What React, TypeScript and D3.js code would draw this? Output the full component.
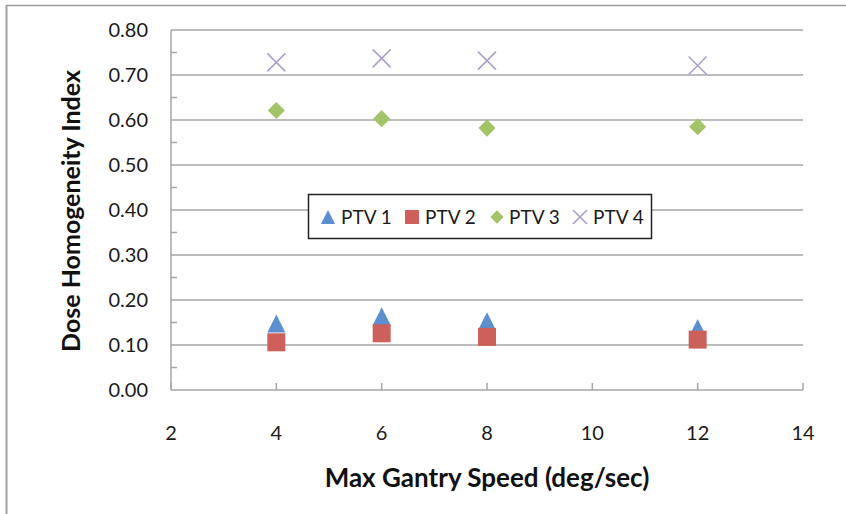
import React from "react";
import * as d3 from "d3";

// Max gantry speed (deg/sec) for each plan
const speeds = [4, 6, 8, 12];
// Dose homogeneity index per target volume
const ptv1 = [0.148, 0.164, 0.153, 0.138];
const ptv2 = [0.106, 0.126, 0.118, 0.112];
const ptv3 = [0.621, 0.603, 0.582, 0.585];
const ptv4 = [0.728, 0.737, 0.732, 0.721];
const seriesNames = ["PTV 1", "PTV 2", "PTV 3", "PTV 4"];
const xTicks = [2, 4, 6, 8, 10, 12, 14];
const yTicks = [0, 0.1, 0.2, 0.3, 0.4, 0.5, 0.6, 0.7, 0.8];

const W = 846;
const H = 514;
const FONT = "Lato, 'Open Sans', sans-serif";
const GRID = "#a6a6a6";
const colors = ["#5b8fcf", "#cd605a", "#a2c368", "#ad9fcc"];

const x = d3.scaleLinear().domain([2, 14]).range([171, 803]);
const y = d3.scaleLinear().domain([0, 0.8]).range([390, 30]);

function marker(kind: number, cx: number, cy: number, s: number, key?: string) {
  const h = s / 2;
  if (kind === 0) {
    return (
      <path key={key} d={`M${cx},${cy - h}L${cx + h},${cy + h}L${cx - h},${cy + h}Z`} fill={colors[0]} />
    );
  }
  if (kind === 1) {
    return <rect key={key} x={cx - h} y={cy - h} width={s} height={s} fill={colors[1]} />;
  }
  if (kind === 2) {
    const d = h * 0.95;
    return (
      <path key={key} d={`M${cx},${cy - d}L${cx + d},${cy}L${cx},${cy + d}L${cx - d},${cy}Z`} fill={colors[2]} />
    );
  }
  return (
    <path
      key={key}
      d={`M${cx - h},${cy - h}L${cx + h},${cy + h}M${cx + h},${cy - h}L${cx - h},${cy + h}`}
      stroke={colors[3]}
      strokeWidth={1.6}
      fill="none"
    />
  );
}

export default function App() {
  const series = [ptv1, ptv2, ptv3, ptv4];
  const minorTicks = d3.range(0.05, 0.8, 0.1);
  const legendItems = [
    { mx: 328, tx: 341 },
    { mx: 412, tx: 425 },
    { mx: 497, tx: 509 },
    { mx: 580, tx: 593 },
  ];
  return (
    <svg
      width={W}
      height={H}
      style={{ position: "absolute", left: 0, top: 0, background: "#fff" }}
      fontFamily={FONT}
    >
      {/* frame edges */}
      <line x1={6.5} y1={5} x2={6.5} y2={H} stroke="#a0a0a0" strokeWidth={2} />
      <line x1={6} y1={5.5} x2={W} y2={5.5} stroke="#a0a0a0" strokeWidth={1.5} />

      {/* horizontal gridlines */}
      {yTicks.map((t) => (
        <line key={`g${t}`} x1={x(2)} x2={x(14)} y1={y(t)} y2={y(t)} stroke={GRID} strokeWidth={1.5} />
      ))}
      {/* y axis line with minor ticks */}
      <line x1={x(2)} x2={x(2)} y1={y(0.8)} y2={y(0)} stroke={GRID} strokeWidth={1.5} />
      {minorTicks.map((t) => (
        <line key={`m${t}`} x1={x(2)} x2={x(2) + 6} y1={y(t)} y2={y(t)} stroke={GRID} strokeWidth={1.5} />
      ))}
      {/* x axis ticks */}
      {xTicks.map((t) => (
        <line key={`xt${t}`} x1={x(t)} x2={x(t)} y1={y(0)} y2={y(0) - 7} stroke={GRID} strokeWidth={1.5} />
      ))}

      {/* y tick labels */}
      {yTicks.map((t) => (
        <text key={`yl${t}`} x={148} y={y(t) + 7} textAnchor="end" fontSize={20} fill="#1a1a1a">
          {d3.format(".2f")(t)}
        </text>
      ))}
      {/* x tick labels */}
      {xTicks.map((t) => (
        <text key={`xl${t}`} x={x(t)} y={440} textAnchor="middle" fontSize={20} fill="#1a1a1a">
          {t}
        </text>
      ))}

      {/* data markers */}
      {series.map((vals, si) =>
        vals.map((v, i) => marker(si, x(speeds[i]), y(v), 18, `s${si}-${i}`))
      )}

      {/* legend */}
      <rect x={308.5} y={194.5} width={343} height={44} fill="#fff" stroke="#222" strokeWidth={1.5} />
      {seriesNames.map((name, i) => (
        <g key={name}>
          {marker(i, legendItems[i].mx, 217, 14)}
          <text x={legendItems[i].tx} y={224} fontSize={19} fill="#1a1a1a">
            {name}
          </text>
        </g>
      ))}

      {/* axis titles */}
      <text x={487} y={487} textAnchor="middle" fontSize={26} fontWeight="bold" fill="#111">
        Max Gantry Speed (deg/sec)
      </text>
      <text
        transform={`translate(80, 211) rotate(-90)`}
        textAnchor="middle"
        fontSize={25}
        fontWeight="bold"
        fill="#111"
      >
        Dose Homogeneity Index
      </text>
    </svg>
  );
}
